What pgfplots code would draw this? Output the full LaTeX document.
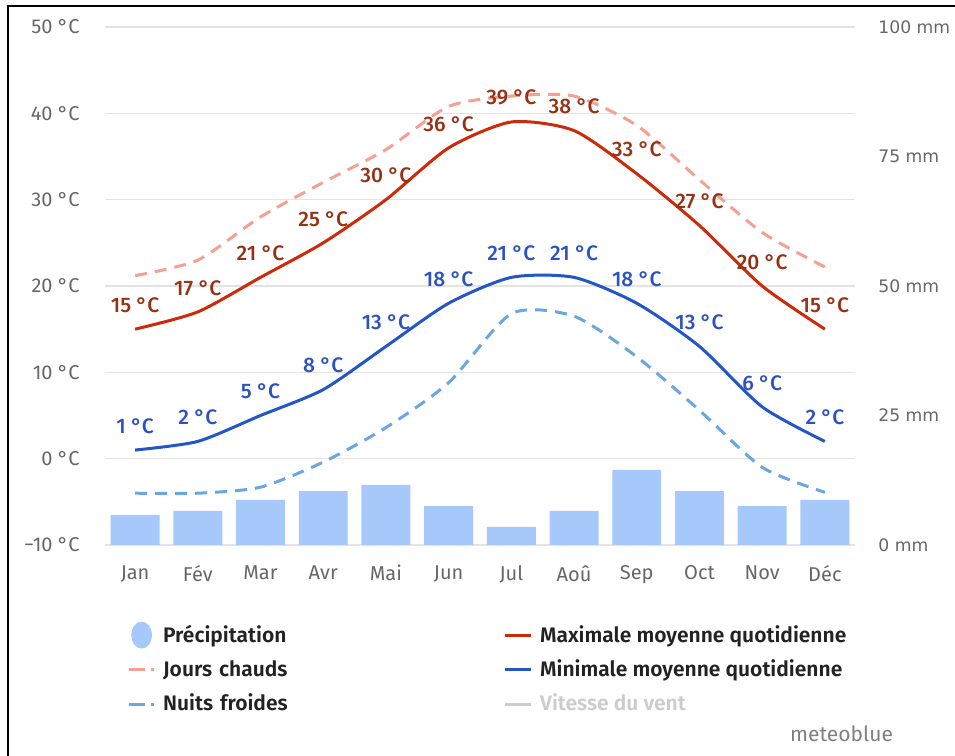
\documentclass[border=0pt]{standalone}
\usepackage{fontspec}
\setmainfont{Fira Sans}
\newfontfamily\dejavu{DejaVu Sans}
\newfontfamily\medfont{Fira Sans Medium}
\newfontfamily\semifont{Fira Sans SemiBold}
\usepackage{pgfplots}
\pgfplotsset{compat=1.18}
\definecolor{maxc}{HTML}{CC2A08}
\definecolor{maxlab}{HTML}{963214}
\definecolor{minc}{HTML}{2456C6}
\definecolor{minlab}{HTML}{2C52C0}
\definecolor{hotc}{HTML}{F4A193}
\definecolor{coldc}{HTML}{6AA6E0}
\definecolor{precipc}{HTML}{A6C8FA}
\definecolor{gridc}{HTML}{E3E3E3}
\definecolor{tickc}{HTML}{666666}
\definecolor{legtext}{HTML}{222222}
\definecolor{windc}{HTML}{CCCCCC}
\begin{document}
\begin{tikzpicture}
\begin{axis}[
  at={(52.5pt,105.5pt)}, anchor=south west,
  scale only axis, width=375pt, height=259pt,
  xmin=-0.48, xmax=11.48, ymin=-10, ymax=50,
  axis line style={draw=none},
  major tick length=0pt,
  ymajorgrids, grid style={gridc, line width=0.8pt},
  xtick={0,...,11},
  xticklabels={Jan,Fév,Mar,Avr,Mai,Jun,Jul,Aoû,Sep,Oct,Nov,Déc},
  ytick={-10,0,10,20,30,40,50},
  yticklabels={−10 °C,0 °C,10 °C,20 °C,30 °C,40 °C,50 °C},
  tick label style={font=\fontsize{10}{12}\selectfont, text=tickc},
  yticklabel style={anchor=east, inner sep=0pt, xshift=-12.5pt},
  xticklabel style={anchor=north, inner sep=0pt, yshift=-10pt},
  nodes near coords={\pgfmathprintnumber[assume math mode=true]{\pgfplotspointmeta}~°C},
  every node near coord/.append style={font=\medfont\fontsize{10.5}{12}\selectfont, inner sep=0pt, anchor=south, yshift=7.5pt},
]
% Hot days
\addplot[hotc, line width=1.5pt, dash pattern=on 6pt off 4pt, smooth, tension=0.42, no markers, nodes near coords={}] coordinates {
(0,21.2) (1,23) (2,28) (3,32) (4,35.8) (5,40.8) (6,42) (7,42) (8,38.6) (9,32.3) (10,26.2) (11,22.2)};
% Cold nights
\addplot[coldc, line width=1.5pt, dash pattern=on 6pt off 4pt, smooth, tension=0.42, no markers, nodes near coords={}] coordinates {
(0,-4) (1,-4) (2,-3.3) (3,-0.4) (4,3.6) (5,8.8) (6,16.8) (7,16.5) (8,11.8) (9,5.6) (10,-1) (11,-3.9)};
% Max
\addplot[maxc, line width=1.5pt, smooth, tension=0.42, no markers, every node near coord/.append style={text=maxlab}] coordinates {
(0,15) (1,17) (2,21) (3,25) (4,30) (5,36) (6,39) (7,38) (8,33) (9,27) (10,20) (11,15)};
% Min
\addplot[minc, line width=1.5pt, smooth, tension=0.42, no markers, every node near coord/.append style={text=minlab}] coordinates {
(0,1) (1,2) (2,5) (3,8) (4,13) (5,18) (6,21) (7,21) (8,18) (9,13) (10,6) (11,2)};
\end{axis}
\begin{axis}[
  at={(52.5pt,105.5pt)}, anchor=south west,
  scale only axis, width=375pt, height=259pt,
  xmin=-0.48, xmax=11.48, ymin=0, ymax=100,
  axis line style={draw=none},
  major tick length=0pt,
  axis y line*=right, axis x line=none,
  ytick={0,25,50,75,100},
  yticklabels={0 mm,25 mm,50 mm,75 mm,100 mm},
  tick label style={font=\dejavu\fontsize{8.6}{10}\selectfont, text=tickc},
  yticklabel style={anchor=west, inner sep=0pt, xshift=11.5pt},
  legend cell align=left,
  legend columns=2,
  legend style={at={(axis description cs:0.021,-0.138)}, anchor=north west, draw=none, fill=none,
    font=\semifont\fontsize{10.5}{12}\selectfont, text=legtext, row sep=3.25pt, column sep=2pt,
    /tikz/every even column/.append style={column sep=8pt}},
]
\addplot[ybar, bar width=0.78, fill=precipc, draw=none, forget plot] coordinates {
(0,5.8) (1,6.6) (2,8.7) (3,10.4) (4,11.6) (5,7.5) (6,3.5) (7,6.6) (8,14.5) (9,10.4) (10,7.5) (11,8.7)};
\addlegendimage{legend image code/.code={\fill[precipc] (6.5pt,0pt) ellipse [x radius=5pt, y radius=6.5pt];}}
\addlegendentry[text width=160pt]{Précipitation}
\addlegendimage{legend image code/.code={\draw[maxc, line width=1.5pt] (0pt,0pt) -- (13pt,0pt);}}
\addlegendentry{Maximale moyenne quotidienne}
\addlegendimage{legend image code/.code={\draw[hotc, line width=1.5pt] (0pt,0pt) -- (8pt,0pt) (11pt,0pt) -- (12.5pt,0pt);}}
\addlegendentry[text width=160pt]{Jours chauds}
\addlegendimage{legend image code/.code={\draw[minc, line width=1.5pt] (0pt,0pt) -- (13pt,0pt);}}
\addlegendentry{Minimale moyenne quotidienne}
\addlegendimage{legend image code/.code={\draw[coldc, line width=1.5pt] (0pt,0pt) -- (8pt,0pt) (11pt,0pt) -- (12.5pt,0pt);}}
\addlegendentry[text width=160pt]{Nuits froides}
\addlegendimage{legend image code/.code={\draw[windc, line width=1.5pt] (0pt,0pt) -- (13pt,0pt);}}
\addlegendentry[text=windc]{Vitesse du vent}
\end{axis}
\node[anchor=base east, text=gray, font=\fontsize{10.5}{12}\selectfont] at (450pt,7pt) {meteoblue};
\draw[line width=1pt] (4pt,0pt) -- (4pt,375pt) -- (477.5pt,375pt);
\pgfresetboundingbox
\path (0pt,0pt) rectangle (477.5pt,378pt);
\end{tikzpicture}
\end{document}
